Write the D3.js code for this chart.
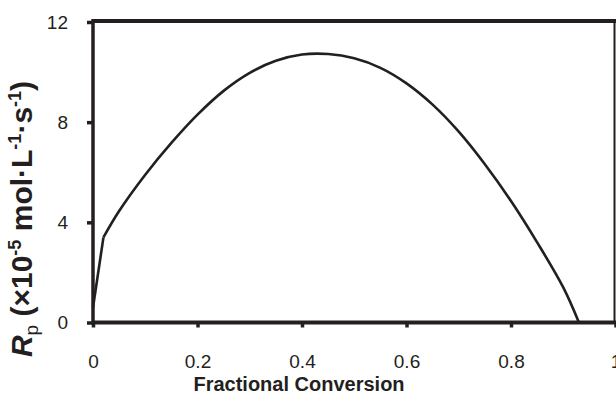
<!DOCTYPE html>
<html>
<head>
<meta charset="utf-8">
<script src="https://cdn.jsdelivr.net/npm/d3@7"></script>
<style>
  body { margin: 0; background: #fff; }
  svg { display: block; font-family: "Liberation Sans", Arial, sans-serif; }
</style>
</head>
<body>
<svg id="chart"></svg>
<script>
// conversion vs rate
const conversion = [0, 0.02, 0.05, 0.1, 0.15, 0.2, 0.25, 0.3, 0.35, 0.4, 0.45, 0.5, 0.55, 0.6, 0.65, 0.7, 0.75, 0.8, 0.85, 0.9, 0.93];
const rate = [0.6, 3.4, 4.45, 5.9, 7.17, 8.3, 9.25, 9.97, 10.45, 10.7, 10.72, 10.55, 10.17, 9.55, 8.7, 7.62, 6.32, 4.85, 3.2, 1.4, 0];
const xTicks = [0, 0.2, 0.4, 0.6, 0.8, 1];
const yTicks = [0, 4, 8, 12];

const width = 616, height = 396;
const ink = "#231f20";

const svg = d3.select("#chart")
    .attr("width", width)
    .attr("height", height);

const x = d3.scaleLinear().domain([0, 1]).range([93, 615.5]);
const y = d3.scaleLinear().domain([0, 12]).range([322.5, 22]);

const xAxis = g => g
    .attr("transform", `translate(0,${y(0)})`)
    .call(d3.axisBottom(x).tickValues(xTicks).tickSize(5).tickPadding(27)
        .tickFormat(d => d === 0 ? "0" : d === 1 ? "1" : d3.format(".1f")(d)))
    .call(g => g.select(".domain").remove())
    .call(g => g.selectAll(".tick line").attr("stroke", ink).attr("stroke-width", 3.5))
    .call(g => g.selectAll(".tick text").attr("fill", ink).attr("font-size", 19));

const yAxis = g => g
    .attr("transform", `translate(${x(0)},0)`)
    .call(d3.axisLeft(y).tickValues(yTicks).tickSize(6).tickPadding(19))
    .call(g => g.select(".domain").remove())
    .call(g => g.selectAll(".tick line").attr("stroke", ink).attr("stroke-width", 3.5))
    .call(g => g.selectAll(".tick text").attr("fill", ink).attr("font-size", 19));

svg.append("g").call(xAxis);
svg.append("g").call(yAxis);

// frame
const frame = svg.append("g").attr("stroke", ink).attr("fill", "none");
frame.append("line").attr("x1", x(0)).attr("x2", width).attr("y1", 21).attr("y2", 21).attr("stroke-width", 4);
frame.append("line").attr("x1", x(0) - 1).attr("x2", width).attr("y1", y(0)).attr("y2", y(0)).attr("stroke-width", 4);
frame.append("line").attr("x1", x(0)).attr("x2", x(0)).attr("y1", 19).attr("y2", y(0) + 2).attr("stroke-width", 3.5);
frame.append("line").attr("x1", 614.5).attr("x2", 614.5).attr("y1", 19).attr("y2", y(0)).attr("stroke-width", 2);

// curve
const points = conversion.map((c, i) => [c, rate[i]]);
const line = d3.line()
    .x(d => x(d[0]))
    .y(d => y(d[1]))
    .curve(d3.curveCatmullRom.alpha(0.5));

svg.append("path")
    .datum(points.slice(1))
    .attr("fill", "none")
    .attr("stroke", ink)
    .attr("stroke-width", 2.6)
    .attr("d", line);

svg.append("path")
    .datum(points.slice(0, 2))
    .attr("fill", "none")
    .attr("stroke", ink)
    .attr("stroke-width", 2.6)
    .attr("d", d3.line().x(d => x(d[0])).y(d => y(d[1])));

// titles
svg.append("text")
    .attr("x", 299)
    .attr("y", 391)
    .attr("text-anchor", "middle")
    .attr("font-size", 20)
    .attr("font-weight", "bold")
    .attr("fill", ink)
    .text("Fractional Conversion");

const yt = svg.append("text")
    .attr("transform", "translate(32,219) rotate(-90)")
    .attr("text-anchor", "middle")
    .attr("font-size", 30)
    .attr("font-weight", "bold")
    .attr("fill", ink);
yt.append("tspan").attr("font-style", "italic").text("R");
yt.append("tspan").attr("font-size", 19).attr("font-weight", "normal").attr("dy", 6).text("p");
yt.append("tspan").attr("dy", -6).text(" (×10");
yt.append("tspan").attr("font-size", 18).attr("dy", -11).text("-5");
yt.append("tspan").attr("dy", 11).text(" mol·L");
yt.append("tspan").attr("font-size", 18).attr("dy", -11).text("-1");
yt.append("tspan").attr("dy", 11).text("·s");
yt.append("tspan").attr("font-size", 18).attr("dy", -11).text("-1");
yt.append("tspan").attr("dy", 11).text(")");
</script>
</body>
</html>
